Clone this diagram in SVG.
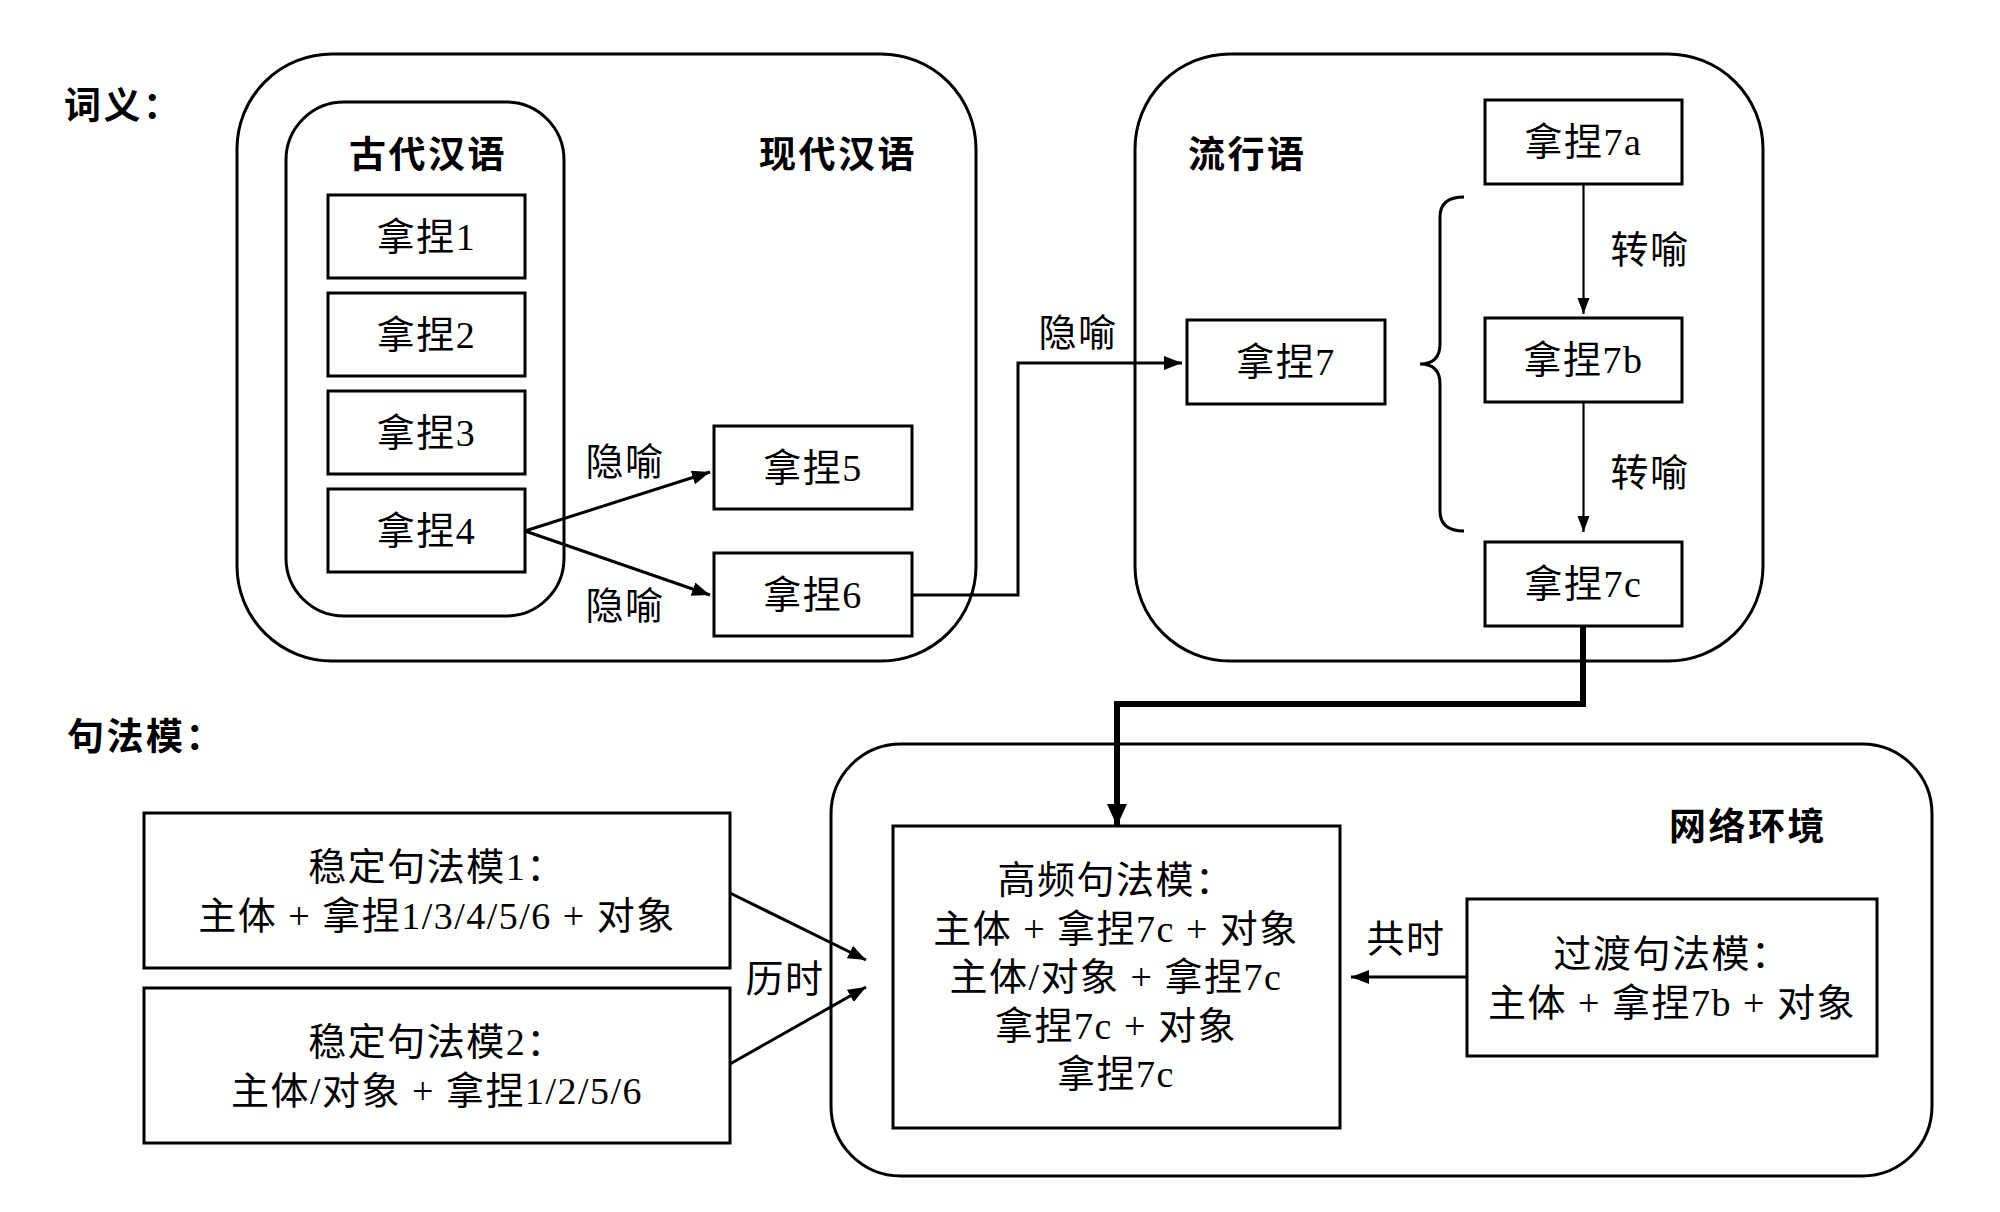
<svg xmlns="http://www.w3.org/2000/svg" width="2000" height="1212" viewBox="0 0 2000 1212">
<style>
.box{fill:#fff;stroke:#000;stroke-width:3}
.grp{fill:none;stroke:#000;stroke-width:3}
.t{font-family:"Liberation Serif","Noto Sans CJK SC",serif;font-size:38px;letter-spacing:1.5px;fill:#000;text-anchor:middle;dominant-baseline:central}
.h{font-family:"Noto Sans CJK SC","Liberation Sans",sans-serif;font-size:37px;letter-spacing:2.5px;font-weight:bold;fill:#000;dominant-baseline:central}
.c{fill:none;stroke:#000;stroke-width:3}
.thin{fill:none;stroke:#000;stroke-width:2.2}
.thick{fill:none;stroke:#000;stroke-width:6}
</style>
<defs>
<marker id="ah" markerUnits="userSpaceOnUse" markerWidth="20" markerHeight="16" refX="18" refY="7" orient="auto"><path d="M0,0 L18,7 L0,14 z" fill="#000"/></marker>
<marker id="ahs" markerUnits="userSpaceOnUse" markerWidth="18" markerHeight="14" refX="16" refY="6" orient="auto"><path d="M0,0 L16,6 L0,12 z" fill="#000"/></marker>
<marker id="ahb" markerUnits="userSpaceOnUse" markerWidth="24" markerHeight="22" refX="22" refY="10" orient="auto"><path d="M0,0 L22,10 L0,20 z" fill="#000"/></marker>
</defs>

<text class="h" x="64" y="103">词义：</text>
<text class="h" x="67" y="734">句法模：</text>

<g id="modern">
<rect class="grp" x="237" y="54" width="739" height="607" rx="95" ry="95"/>
<text class="h" x="838" y="152" text-anchor="middle">现代汉语</text>
</g>
<g id="ancient">
<rect class="grp" x="286" y="102" width="278" height="514" rx="58" ry="58"/>
<text class="h" x="428" y="152" text-anchor="middle">古代汉语</text>
</g>
<g id="popular">
<rect class="grp" x="1135" y="54" width="628" height="607" rx="95" ry="95"/>
<text class="h" x="1188" y="152">流行语</text>
</g>
<g id="network">
<rect class="grp" x="831" y="744" width="1101" height="432" rx="70" ry="70"/>
<text class="h" x="1748" y="824" text-anchor="middle">网络环境</text>
</g>

<g id="connectors">
<line class="c" x1="525" y1="531" x2="710" y2="472" marker-end="url(#ah)"/>
<line class="c" x1="525" y1="531" x2="710" y2="595" marker-end="url(#ah)"/>
<path class="c" d="M912 595 H1018 V363 H1182" marker-end="url(#ah)"/>
<line class="thin" x1="1583.5" y1="184" x2="1583.5" y2="314" marker-end="url(#ahs)"/>
<line class="thin" x1="1583.5" y1="402" x2="1583.5" y2="532" marker-end="url(#ahs)"/>
<path class="c" d="M1464 197 Q1440 197 1440 217 L1440 344 Q1440 364 1420 364 Q1440 364 1440 384 L1440 511 Q1440 531 1464 531"/>
<path class="thick" d="M1583 626 V704 H1117 V826" marker-end="url(#ahb)"/>
<line class="c" x1="730" y1="893" x2="866" y2="960" marker-end="url(#ah)"/>
<line class="c" x1="730" y1="1064" x2="866" y2="987" marker-end="url(#ah)"/>
<line class="c" x1="1467" y1="977" x2="1351" y2="977" marker-end="url(#ah)"/>
<text class="t" x="625" y="462">隐喻</text>
<text class="t" x="625" y="606">隐喻</text>
<text class="t" x="1078" y="333">隐喻</text>
<text class="t" x="1650" y="250">转喻</text>
<text class="t" x="1650" y="473">转喻</text>
<text class="t" x="785" y="979">历时</text>
<text class="t" x="1406" y="939">共时</text>
</g>

<g id="n1"><rect class="box" x="328" y="195" width="197" height="83"/><text class="t" x="426.5" y="236.5">拿捏1</text></g>
<g id="n2"><rect class="box" x="328" y="293" width="197" height="83"/><text class="t" x="426.5" y="334.5">拿捏2</text></g>
<g id="n3"><rect class="box" x="328" y="391" width="197" height="83"/><text class="t" x="426.5" y="432.5">拿捏3</text></g>
<g id="n4"><rect class="box" x="328" y="489" width="197" height="83"/><text class="t" x="426.5" y="530.5">拿捏4</text></g>
<g id="n5"><rect class="box" x="714" y="426" width="198" height="83"/><text class="t" x="813" y="467.5">拿捏5</text></g>
<g id="n6"><rect class="box" x="714" y="553" width="198" height="83"/><text class="t" x="813" y="594.5">拿捏6</text></g>
<g id="n7"><rect class="box" x="1187" y="320" width="198" height="84"/><text class="t" x="1286" y="362">拿捏7</text></g>
<g id="n7a"><rect class="box" x="1485" y="100" width="197" height="84"/><text class="t" x="1583.5" y="142">拿捏7a</text></g>
<g id="n7b"><rect class="box" x="1485" y="318" width="197" height="84"/><text class="t" x="1583.5" y="360">拿捏7b</text></g>
<g id="n7c"><rect class="box" x="1485" y="542" width="197" height="84"/><text class="t" x="1583.5" y="584">拿捏7c</text></g>

<g id="stable1"><rect class="box" x="144" y="813" width="586" height="155"/>
<text class="t" x="437" y="867">稳定句法模1：</text>
<text class="t" x="437" y="916">主体 + 拿捏1/3/4/5/6 + 对象</text></g>
<g id="stable2"><rect class="box" x="144" y="988" width="586" height="155"/>
<text class="t" x="437" y="1042">稳定句法模2：</text>
<text class="t" x="437" y="1091">主体/对象 + 拿捏1/2/5/6</text></g>
<g id="highfreq"><rect class="box" x="893" y="826" width="447" height="302"/>
<text class="t" x="1116" y="880">高频句法模：</text>
<text class="t" x="1116" y="929">主体 + 拿捏7c + 对象</text>
<text class="t" x="1116" y="977">主体/对象 + 拿捏7c</text>
<text class="t" x="1116" y="1026">拿捏7c + 对象</text>
<text class="t" x="1116" y="1074">拿捏7c</text></g>
<g id="transition"><rect class="box" x="1467" y="899" width="410" height="157"/>
<text class="t" x="1672" y="954">过渡句法模：</text>
<text class="t" x="1672" y="1003">主体 + 拿捏7b + 对象</text></g>
</svg>
